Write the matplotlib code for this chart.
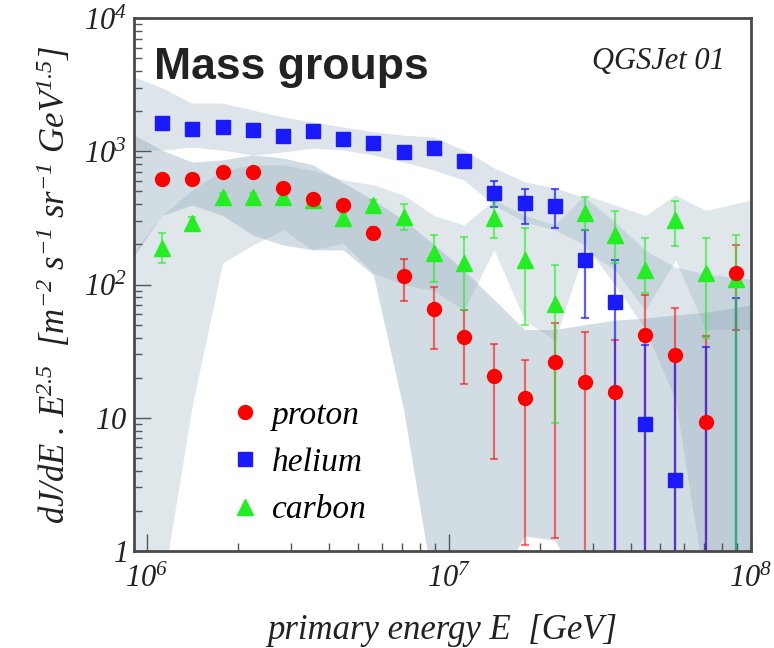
import numpy as np
import matplotlib
matplotlib.use("Agg")
import matplotlib.pyplot as plt
from matplotlib.lines import Line2D
from matplotlib.ticker import FixedLocator, LogLocator, NullFormatter

plt.rcParams['mathtext.fontset'] = 'custom'
plt.rcParams['mathtext.rm'] = 'Liberation Serif:italic'
plt.rcParams['mathtext.it'] = 'Liberation Serif:italic'

# bin centres (GeV)
energy = [1.12e6, 1.41e6, 1.78e6, 2.24e6, 2.82e6, 3.55e6, 4.47e6, 5.62e6, 7.08e6, 8.91e6,
          1.12e7, 1.41e7, 1.78e7, 2.24e7, 2.82e7, 3.55e7, 4.47e7, 5.62e7, 7.08e7, 8.91e7]

proton = [616, 616, 703, 703, 533, 438, 395, 245, 116, 65,
          40.6, 20.7, 14, 26, 18.7, 15.5, 41.8, 29.6, 9.3, 121]
proton_lo = [575, 575, 655, 655, 495, 405, 365, 222, 75, 33,
             17.8, 4.9, 1.1, 1.25, 0.1, 0.1, 0.1, 0.1, 0.1, 45.6]
proton_hi = [660, 660, 755, 755, 575, 475, 428, 272, 155, 96,
             64, 36, 27, 51, 44, 38, 83, 67, 41, 198]

helium = [1637, 1462, 1528, 1445, 1303, 1427, 1230, 1159, 993, 1052,
          850, 483, 407, 388, 153, 74, 9.0, 3.4, 0.3, 0.3]
helium_lo = [1530, 1370, 1430, 1350, 1220, 1335, 1150, 1080, 925, 980,
             790, 380, 283, 264, 56, 0.1, 0.1, 0.1, 0.1, 0.1]
helium_hi = [1750, 1560, 1630, 1545, 1390, 1525, 1315, 1240, 1065, 1125,
             915, 598, 521, 521, 257, 153, 35, 32, 34, 79]

carbon = [187, 291, 451, 451, 451, 431, 314, 395, 323, 171,
          144, 314, 153, 72, 342, 235, 128, 305, 121, 110]
carbon_lo = [144, 265, 415, 415, 415, 395, 285, 360, 257, 105,
             64, 222, 50, 9.1, 257, 145, 86, 194, 40, 0.1]
carbon_hi = [242, 320, 490, 490, 490, 470, 345, 430, 400, 235,
             228, 420, 264, 140, 451, 358, 222, 423, 222, 235]

# systematic bands
band_energy = [9.1e5, 1.12e6, 1.41e6, 1.78e6, 2.24e6, 2.82e6, 3.55e6, 4.47e6, 5.62e6, 7.08e6,
               8.91e6, 1.12e7, 1.41e7, 1.78e7, 2.24e7, 2.82e7, 3.55e7, 4.47e7, 5.62e7, 7.08e7,
               1.0e8]
helium_band_lo = [1020, 1020, 1076, 1020, 937, 987, 1058, 1021, 937, 830,
                  723, 608, 395, 294, 257, 198, 99, 46, 13.6, 0.5, 0.5]
helium_band_hi = [3600, 3000, 2300, 2300, 2040, 1810, 1660, 1520, 1400, 1320,
                  1280, 1020, 750, 590, 530, 450, 295, 180, 135, 120, 110]
proton_band_lo = [166, 330, 395, 330, 235, 198, 182, 182, 118, 11.4,
                  0.5, 0.5, 0.5, 1.3, 1.2, 0.5, 0.5, 0.5, 0.5, 0.5, 0.5]
proton_band_hi = [1320, 1020, 830, 860, 940, 890, 790, 580, 430, 305,
                  200, 128, 77, 46, 46, 50, 54, 56, 59, 62, 70]
carbon_band_lo = [0.5, 0.5, 12, 145, 198, 257, 182, 205, 122, 100,
                  90, 64, 182, 54, 38, 182, 128, 64, 153, 46, 46]
carbon_band_hi = [180, 330, 510, 720, 790, 790, 720, 610, 560, 470,
                  330, 280, 430, 330, 280, 470, 395, 330, 470, 360, 430]

band_col = '#8fa9ba'
serif_it = {'family': 'Liberation Serif', 'style': 'italic'}

fig = plt.figure(figsize=(7.74, 6.48), dpi=100)
ax = fig.add_axes([0.1731, 0.1497, 0.7972, 0.8225])

ax.fill_between(band_energy, carbon_band_lo, carbon_band_hi, color=band_col, alpha=0.28, lw=0, zorder=1)
ax.fill_between(band_energy, proton_band_lo, proton_band_hi, color=band_col, alpha=0.4, lw=0, zorder=1)
ax.fill_between(band_energy, helium_band_lo, helium_band_hi, color=band_col, alpha=0.3, lw=0, zorder=1)

series = [
    (proton, proton_lo, proton_hi, '#ff0000', 'o', 10, 0.55),
    (helium, helium_lo, helium_hi, '#1a1aff', 's', 10, 0.7),
    (carbon, carbon_lo, carbon_hi, '#22ee22', '^', 11, 0.6),
]
for vals, lo, hi, col, mk, ms, a in series:
    v = np.array(vals)
    yerr = [v - np.array(lo), np.array(hi) - v]
    ax.errorbar(energy, v, yerr=yerr, fmt='none', ecolor=col, elinewidth=1.6,
                capsize=3, capthick=1.5, alpha=a, zorder=2)
for vals, lo, hi, col, mk, ms, a in series[::-1]:
    ax.plot(energy, vals, ls='none', marker=mk, ms=ms, color=col, mec=col, zorder=3)

ax.set_xscale('log')
ax.set_yscale('log')
ax.set_xlim(9.06e5, 1.0e8)
ax.set_ylim(1, 1e4)

ax.xaxis.set_major_locator(FixedLocator([1e6, 1e7, 1e8]))
ax.set_xticklabels(['$10^{6}$', '$10^{7}$', '$10^{8}$'])
ax.yaxis.set_major_locator(FixedLocator([1, 10, 100, 1000, 10000]))
ax.set_yticklabels(['$1$', '$10$', '$10^{2}$', '$10^{3}$', '$10^{4}$'])
ax.xaxis.set_minor_locator(LogLocator(base=10, subs=np.arange(2, 10)))
ax.yaxis.set_minor_locator(LogLocator(base=10, subs=np.arange(2, 10)))
ax.xaxis.set_minor_formatter(NullFormatter())
ax.yaxis.set_minor_formatter(NullFormatter())
ax.tick_params(which='both', direction='in', colors='#555555', labelcolor='#222222',
               labelsize=22, top=False, right=False)
ax.tick_params(which='major', length=12, width=1)
ax.tick_params(which='minor', length=6, width=1)
ax.tick_params(axis='x', pad=9)
ax.tick_params(axis='y', pad=5)
for s in ax.spines.values():
    s.set_color('#4a4a4a')
    s.set_linewidth(2)

ax.set_xlabel('primary energy E  [GeV]', fontsize=25, labelpad=15, color='#222222', **serif_it)
ax.set_ylabel(r'dJ/dE . E$^{2.5}$  [m$^{-2}$ s$^{-1}$ sr$^{-1}$ GeV$^{1.5}$]',
              fontsize=25, labelpad=8, color='#222222', **serif_it)

ax.text(0.033, 0.885, 'Mass groups', transform=ax.transAxes, fontsize=32,
        fontweight='bold', family='Liberation Sans', color='#222222', va='baseline')
ax.text(0.958, 0.905, 'QGSJet 01', transform=ax.transAxes, fontsize=22,
        color='#222222', ha='right', va='baseline', **serif_it)

handles = [Line2D([], [], ls='none', marker='o', ms=10, color='#ff0000'),
           Line2D([], [], ls='none', marker='s', ms=10, color='#1a1aff'),
           Line2D([], [], ls='none', marker='^', ms=11, color='#22ee22')]
ax.legend(handles, ['proton', 'helium', 'carbon'], loc='lower left',
          bbox_to_anchor=(0.099, -0.008), frameon=False,
          prop={'family': 'Liberation Serif', 'style': 'italic', 'size': 24},
          handletextpad=0.2, labelspacing=0.5, handlelength=1.2)

fig.savefig('out.png', dpi=100)
